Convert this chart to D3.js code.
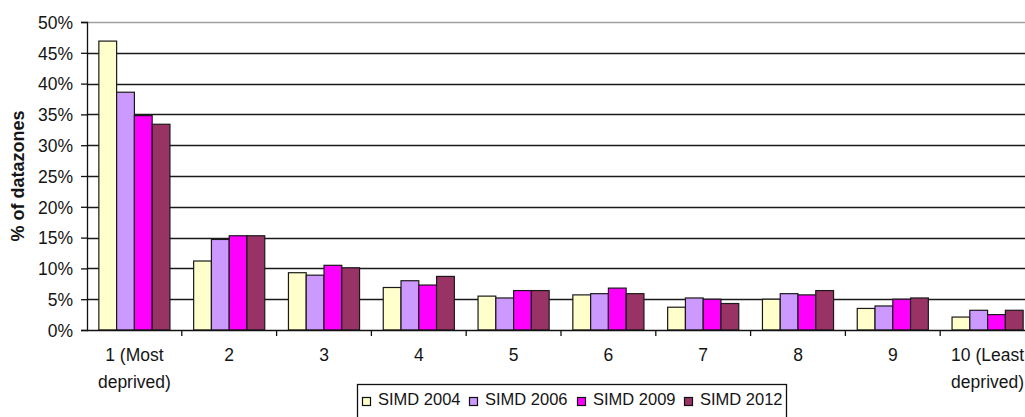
<!DOCTYPE html>
<html>
<head>
<meta charset="utf-8">
<script src="https://cdn.jsdelivr.net/npm/d3@7"></script>
<style>
  html, body { margin: 0; padding: 0; background: #fff; }
  svg { display: block; }
  text { font-family: "Liberation Sans", Arial, sans-serif; fill: #151515; }
</style>
</head>
<body>
<svg id="chart" width="1025" height="417"></svg>
<script>
// Deprivation deciles (SIMD) and share of datazones falling in each decile
const categories = ["1 (Most|deprived)", "2", "3", "4", "5", "6", "7", "8", "9", "10 (Least|deprived)"];
const seriesNames = ["SIMD 2004", "SIMD 2006", "SIMD 2009", "SIMD 2012"];
const simd2004 = [46.9, 11.2, 9.3, 6.9, 5.5, 5.7, 3.7, 5.0, 3.5, 2.1];
const simd2006 = [38.6, 14.7, 8.9, 8.0, 5.2, 5.9, 5.2, 5.9, 3.9, 3.2];
const simd2009 = [34.8, 15.3, 10.5, 7.3, 6.4, 6.8, 5.0, 5.7, 5.0, 2.5];
const simd2012 = [33.4, 15.3, 10.1, 8.7, 6.4, 5.9, 4.3, 6.4, 5.2, 3.2];
const yTicks = [0, 5, 10, 15, 20, 25, 30, 35, 40, 45, 50];
const colors = ["#FFFFCC", "#CC99FF", "#FF00FF", "#993366"];

const seriesValues = [simd2004, simd2006, simd2009, simd2012];

const svg = d3.select("#chart");
const plot = { left: 87, top: 22, right: 1035, bottom: 330 };

const x = d3.scaleBand()
  .domain(categories)
  .range([plot.left, plot.right])
  .paddingInner(0.25)
  .paddingOuter(0.125);
const xInner = d3.scaleBand()
  .domain(seriesNames)
  .range([0, x.bandwidth()]);
const y = d3.scaleLinear().domain([0, 50]).range([plot.bottom, plot.top]);

// Horizontal gridlines
svg.append("g")
  .selectAll("line")
  .data(yTicks.filter(t => t > 0))
  .join("line")
  .attr("x1", plot.left).attr("x2", plot.right)
  .attr("y1", d => Math.round(y(d)) + 0.5).attr("y2", d => Math.round(y(d)) + 0.5)
  .attr("stroke", d => d === 50 ? "#a0a0a0" : "#1a1a1a")
  .attr("stroke-width", 1.3);

// Bars
const groups = svg.append("g")
  .selectAll("g")
  .data(categories)
  .join("g")
  .attr("transform", d => `translate(${x(d)},0)`);

groups.selectAll("rect")
  .data((d, i) => seriesNames.map((s, k) => ({ s, k, v: seriesValues[k][i] })))
  .join("rect")
  .attr("x", d => xInner(d.s))
  .attr("width", xInner.bandwidth())
  .attr("y", d => y(d.v))
  .attr("height", d => y(0) - y(d.v))
  .attr("fill", d => colors[d.k])
  .attr("stroke", "#1a1a1a")
  .attr("stroke-width", 1.2);

// Y axis
const yAxis = d3.axisLeft(y)
  .tickValues(yTicks)
  .tickSize(6)
  .tickFormat(d => d + "%");
const yG = svg.append("g")
  .attr("transform", `translate(${plot.left},0)`)
  .call(yAxis);
yG.select(".domain").attr("stroke", "#111").attr("stroke-width", 1.3);
yG.selectAll(".tick line").attr("stroke", "#111").attr("stroke-width", 1.3);
yG.selectAll(".tick text")
  .attr("x", -14)
  .attr("dy", "0.36em")
  .style("font-family", "'Liberation Sans', Arial, sans-serif")
  .style("font-size", "17.5px")
  .attr("fill", "#151515");

// X axis: ticks sit on category boundaries
const bounds = d3.range(categories.length + 1).map(i => plot.left + i * x.step());
svg.append("line")
  .attr("x1", plot.left).attr("x2", plot.right)
  .attr("y1", plot.bottom + 0.5).attr("y2", plot.bottom + 0.5)
  .attr("stroke", "#111").attr("stroke-width", 1.3);
svg.append("g")
  .selectAll("line")
  .data(bounds.slice(1))
  .join("line")
  .attr("x1", d => d).attr("x2", d => d)
  .attr("y1", plot.bottom).attr("y2", plot.bottom + 6)
  .attr("stroke", "#111").attr("stroke-width", 1.3);

// Category labels (two lines where needed)
const xLabels = svg.append("g")
  .selectAll("text")
  .data(categories)
  .join("text")
  .attr("transform", d => `translate(${x(d) + x.bandwidth() / 2},0)`)
  .attr("text-anchor", "middle")
  .style("font-size", "17.5px");
xLabels.selectAll("tspan")
  .data(d => d.split("|"))
  .join("tspan")
  .attr("x", 0)
  .attr("y", (d, i) => 361 + i * 27)
  .text(d => d);

// Y axis title
svg.append("text")
  .attr("transform", `translate(24,${(plot.top + plot.bottom) / 2}) rotate(-90)`)
  .attr("text-anchor", "middle")
  .style("font-size", "18px")
  .style("font-weight", "bold")
  .text("% of datazones");

// Legend
const legend = svg.append("g");
legend.append("rect")
  .attr("x", 357.5).attr("y", 384.5)
  .attr("width", 429).attr("height", 40)
  .attr("fill", "#fff").attr("stroke", "#111").attr("stroke-width", 1.3);
const legendX = [362, 469, 577, 684];
const items = legend.selectAll("g.item")
  .data(seriesNames)
  .join("g")
  .attr("class", "item")
  .attr("transform", (d, i) => `translate(${legendX[i]},0)`);
items.append("rect")
  .attr("x", 0.5).attr("y", 397.5)
  .attr("width", 8).attr("height", 8)
  .attr("fill", (d, i) => colors[i])
  .attr("stroke", "#111").attr("stroke-width", 1.2);
items.append("text")
  .attr("x", 16)
  .attr("y", 405)
  .style("font-size", "16.5px")
  .text(d => d);
</script>
</body>
</html>
